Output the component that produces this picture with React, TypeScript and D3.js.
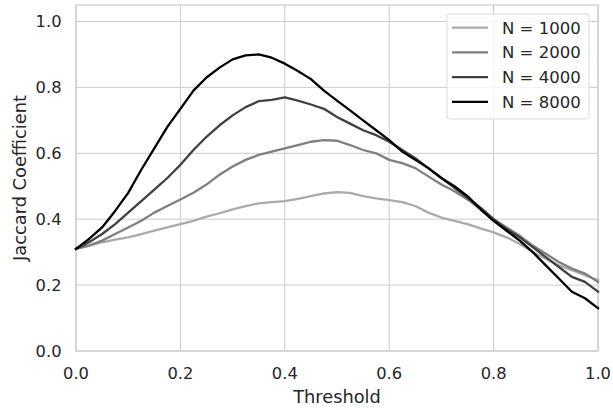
import React, { useEffect, useRef } from "react";
import * as d3 from "d3";

// threshold grid, step 0.025
const thresholds = d3.range(0, 41).map((i) => i / 40);

const n1000 = [
  0.31, 0.32, 0.33, 0.338, 0.345, 0.355, 0.365, 0.375, 0.385, 0.395, 0.408,
  0.418, 0.43, 0.44, 0.448, 0.452, 0.455, 0.462, 0.47, 0.478, 0.482, 0.48,
  0.47, 0.463, 0.458, 0.452, 0.44, 0.42, 0.405, 0.395, 0.385, 0.372, 0.36,
  0.345, 0.325, 0.3, 0.28, 0.26, 0.245, 0.23, 0.215,
];
const n2000 = [
  0.31, 0.32, 0.335, 0.355, 0.375, 0.395, 0.42, 0.44, 0.46, 0.48, 0.505,
  0.535, 0.56, 0.58, 0.595, 0.605, 0.615, 0.625, 0.635, 0.64, 0.638, 0.625,
  0.61, 0.6, 0.58, 0.57, 0.555, 0.53, 0.505, 0.485, 0.46, 0.43, 0.4, 0.375,
  0.35, 0.32, 0.295, 0.27, 0.25, 0.235, 0.21,
];
const n4000 = [
  0.31, 0.33, 0.355, 0.385, 0.42, 0.455, 0.49, 0.525, 0.565, 0.61, 0.65,
  0.685, 0.715, 0.74, 0.758, 0.762, 0.77, 0.76, 0.748, 0.735, 0.71, 0.69,
  0.67, 0.655, 0.635, 0.61, 0.585, 0.555, 0.525, 0.495, 0.465, 0.435, 0.4,
  0.37, 0.345, 0.315, 0.285, 0.255, 0.225, 0.21, 0.18,
];
const n8000 = [
  0.31, 0.34, 0.375, 0.425, 0.48, 0.55, 0.615, 0.68, 0.735, 0.79, 0.83,
  0.86, 0.885, 0.897, 0.9, 0.89, 0.872, 0.85, 0.825, 0.79, 0.76, 0.73, 0.7,
  0.67, 0.64, 0.605, 0.58, 0.555, 0.525, 0.5, 0.47, 0.43, 0.395, 0.365,
  0.335, 0.3, 0.26, 0.22, 0.18, 0.16, 0.13,
];

const seriesNames = ["N = 1000", "N = 2000", "N = 4000", "N = 8000"];
const seriesValues = [n1000, n2000, n4000, n8000];
const seriesColors = ["#aaaaaa", "#7f7f7f", "#404040", "#000000"];

const xTicks = [0, 0.2, 0.4, 0.6, 0.8, 1.0];
const yTicks = [0, 0.2, 0.4, 0.6, 0.8, 1.0];

const W = 613;
const H = 410;
const margin = { left: 76, right: 15, top: 5, bottom: 59 };

export default function App() {
  const ref = useRef<SVGSVGElement>(null);

  useEffect(() => {
    const svg = d3.select(ref.current);
    svg.selectAll("*").remove();

    const x = d3.scaleLinear().domain([0, 1]).range([margin.left, W - margin.right]);
    const y = d3.scaleLinear().domain([0, 1.05]).range([H - margin.bottom, margin.top]);

    const font = "'DejaVu Sans', sans-serif";
    const txt = "#262626";
    const tickSize = 16.3;

    // grid
    const g = svg.append("g");
    g.selectAll("line.gx")
      .data(xTicks)
      .join("line")
      .attr("x1", (d) => x(d))
      .attr("x2", (d) => x(d))
      .attr("y1", y(0))
      .attr("y2", y(1.05))
      .attr("stroke", "#cccccc")
      .attr("stroke-width", 1);
    g.selectAll("line.gy")
      .data(yTicks)
      .join("line")
      .attr("x1", x(0))
      .attr("x2", x(1))
      .attr("y1", (d) => y(d))
      .attr("y2", (d) => y(d))
      .attr("stroke", "#cccccc")
      .attr("stroke-width", 1);

    // spines
    svg
      .append("rect")
      .attr("x", x(0))
      .attr("y", y(1.05))
      .attr("width", x(1) - x(0))
      .attr("height", y(0) - y(1.05))
      .attr("fill", "none")
      .attr("stroke", "#cccccc")
      .attr("stroke-width", 1.25);

    // tick labels
    svg
      .append("g")
      .selectAll("text")
      .data(xTicks)
      .join("text")
      .attr("x", (d) => x(d))
      .attr("y", 378.5)
      .attr("text-anchor", "middle")
      .attr("font-family", font)
      .attr("font-size", tickSize)
      .attr("fill", txt)
      .text((d) => d.toFixed(1));
    svg
      .append("g")
      .selectAll("text")
      .data(yTicks)
      .join("text")
      .attr("x", x(0) - 14.5)
      .attr("y", (d) => y(d) + 5.9)
      .attr("text-anchor", "end")
      .attr("font-family", font)
      .attr("font-size", tickSize)
      .attr("fill", txt)
      .text((d) => d.toFixed(1));

    // axis labels
    svg
      .append("text")
      .attr("x", (x(0) + x(1)) / 2)
      .attr("y", 402.5)
      .attr("text-anchor", "middle")
      .attr("font-family", font)
      .attr("font-size", 17.8)
      .attr("fill", txt)
      .text("Threshold");
    svg
      .append("text")
      .attr("transform", `translate(25.5, ${(y(0) + y(1.05)) / 2}) rotate(-90)`)
      .attr("text-anchor", "middle")
      .attr("font-family", font)
      .attr("font-size", 17.8)
      .attr("fill", txt)
      .text("Jaccard Coefficient");

    // lines
    const line = d3
      .line<number>()
      .x((_, i) => x(thresholds[i]))
      .y((d) => y(d));
    svg
      .append("g")
      .selectAll("path")
      .data(seriesValues)
      .join("path")
      .attr("d", (d) => line(d))
      .attr("fill", "none")
      .attr("stroke", (_, i) => seriesColors[i])
      .attr("stroke-width", 2.3)
      .attr("stroke-linejoin", "round")
      .attr("stroke-linecap", "square");

    // legend
    const lg = svg.append("g");
    lg.append("rect")
      .attr("x", 447)
      .attr("y", 14)
      .attr("width", 142)
      .attr("height", 105)
      .attr("rx", 3)
      .attr("fill", "rgba(255,255,255,0.8)")
      .attr("stroke", "#d9d9d9")
      .attr("stroke-width", 1);
    const items = lg
      .selectAll("g")
      .data(seriesNames)
      .join("g")
      .attr("transform", (_, i) => `translate(0, ${27.7 + i * 24.7})`);
    items
      .append("line")
      .attr("x1", 452)
      .attr("x2", 488)
      .attr("stroke", (_, i) => seriesColors[i])
      .attr("stroke-width", 2.3);
    items
      .append("text")
      .attr("x", 502)
      .attr("y", 5.9)
      .attr("font-family", font)
      .attr("font-size", 16.5)
      .attr("fill", txt)
      .text((d) => d);
  }, []);

  return (
    <svg
      ref={ref}
      width={W}
      height={H}
      style={{ position: "absolute", left: 0, top: 0, background: "#fff" }}
    />
  );
}
